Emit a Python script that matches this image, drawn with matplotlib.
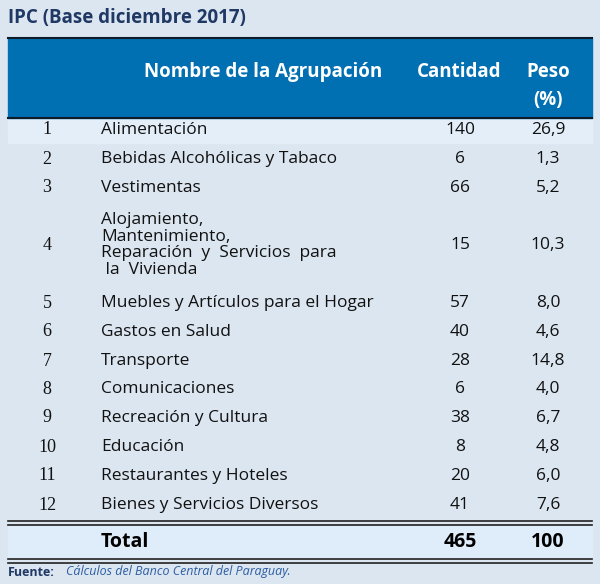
import matplotlib
matplotlib.use("Agg")
import matplotlib.pyplot as plt

nums = list(range(1, 13))
names = ["Alimentación", "Bebidas Alcohólicas y Tabaco", "Vestimentas",
         "Alojamiento,\nMantenimiento,\nReparación  y  Servicios  para\n la  Vivienda",
         "Muebles y Artículos para el Hogar", "Gastos en Salud", "Transporte",
         "Comunicaciones", "Recreación y Cultura", "Educación",
         "Restaurantes y Hoteles", "Bienes y Servicios Diversos"]
cantidad = [140, 6, 66, 15, 57, 40, 28, 6, 38, 8, 20, 41]
peso = ["26,9", "1,3", "5,2", "10,3", "8,0", "4,6", "14,8", "4,0", "6,7", "4,8", "6,0", "7,6"]
total_cant = 465
total_peso = "100"

ys = [130, 159, 188, 245, 303, 332, 361, 389, 418, 447, 476, 505]

fig = plt.figure(figsize=(6, 5.84), dpi=100)
fig.patch.set_facecolor("#dce6f1")
ax = fig.add_axes([0, 0, 1, 1])
ax.set_xlim(0, 600); ax.set_ylim(584, 0); ax.axis("off")

ax.text(8, 18, "IPC (Base diciembre 2017)", fontsize=13.5, fontweight="bold",
        color="#1f3864", va="center", family="Open Sans")
ax.add_patch(plt.Rectangle((8, 38), 584, 80, color="#0070b3", zorder=1))
ax.plot([8, 592], [38, 38], color="#0d1b2a", lw=1.5)
ax.plot([8, 592], [118, 118], color="#0d1b2a", lw=1.5)
hk = dict(color="white", fontsize=13.5, fontweight="bold", va="center", ha="center", family="Open Sans")
ax.text(263, 72, "Nombre de la Agrupación", **hk)
ax.text(459, 72, "Cantidad", **hk)
ax.text(548, 72, "Peso", **hk)
ax.text(548, 100, "(%)", **hk)
ax.add_patch(plt.Rectangle((8, 119), 584, 24, color="#e3eef9", zorder=0))

tk = dict(fontsize=12.5, va="center", color="#111111", family="Open Sans")
for n, name, c, p, y in zip(nums, names, cantidad, peso, ys):
    ax.text(47, y, str(n), ha="center", fontsize=13, va="center", family="Liberation Serif", color="#111111")
    ax.text(101, y, name, ha="left", linespacing=1.05, **tk)
    ax.text(460, y, str(c), ha="center", **tk)
    ax.text(548, y, p, ha="center", **tk)

for y in (521, 525, 559, 563):
    ax.plot([8, 592], [y, y], color="#222222", lw=1.2)
ax.add_patch(plt.Rectangle((8, 526), 584, 32, color="#deedf9", zorder=0))
bk = dict(fontsize=14, fontweight="bold", va="center", color="black", family="Open Sans")
ax.text(101, 542, "Total", ha="left", **bk)
ax.text(460, 542, str(total_cant), ha="center", **bk)
ax.text(548, 542, total_peso, ha="center", **bk)

ax.text(8, 572, "Fuente:", fontsize=9, fontweight="bold", color="#1f3864", va="center", family="Open Sans")
ax.text(66, 572, "Cálculos del Banco Central del Paraguay.", fontsize=9, style="italic",
        color="#2e5fa3", va="center", family="Open Sans")

fig.savefig("out.png", dpi=100, facecolor=fig.get_facecolor())
